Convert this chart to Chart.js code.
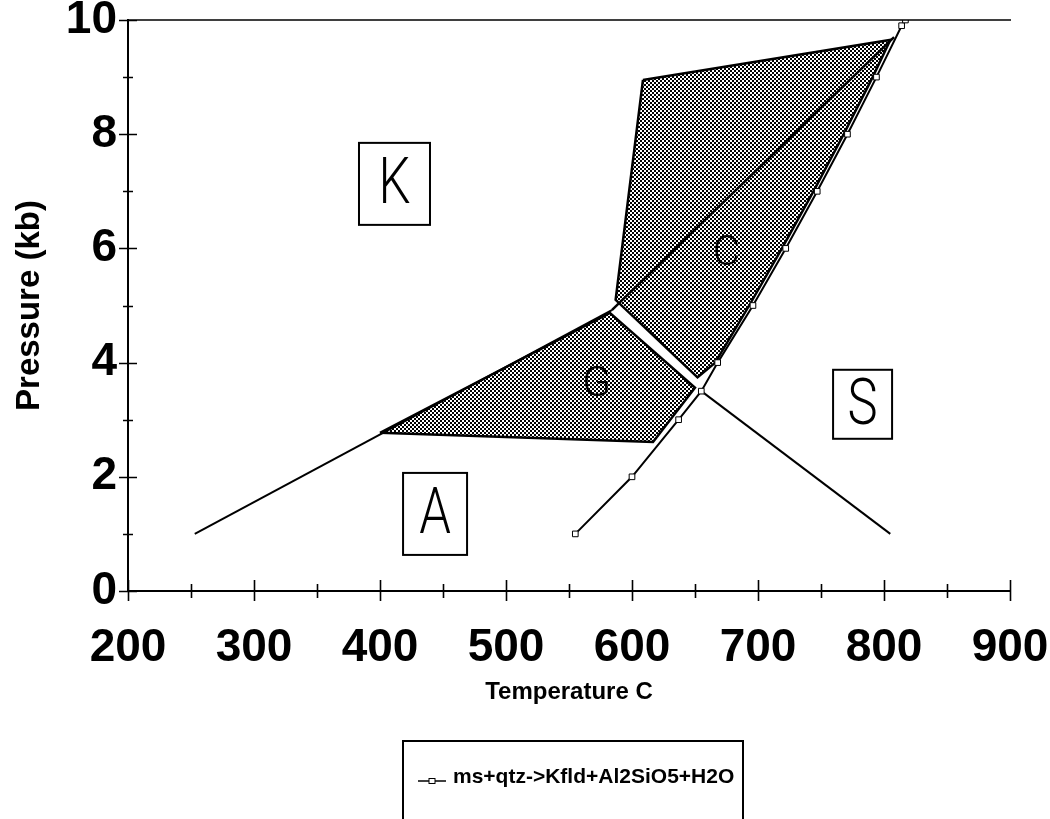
<!DOCTYPE html>
<html>
<head>
<meta charset="utf-8">
<title>Pressure–temperature diagram</title>
<script src="https://cdn.jsdelivr.net/npm/chart.js@4.4.1/dist/chart.umd.min.js"></script>
<style>
  html, body { margin: 0; padding: 0; background: #fff; }
  #wrap { width: 1050px; height: 819px; position: relative; }
</style>
</head>
<body>
<div id="wrap"><canvas id="pt" width="1050" height="819"></canvas></div>
<script>
// Reaction curve ms+qtz -> Kfld+Al2SiO5+H2O (temperature in °C, pressure in kb)
const msqtzT = [555, 600, 637, 655, 668, 696, 722, 747, 771, 794, 814, 817];
const msqtzP = [1, 2, 3, 3.5, 4, 5, 6, 7, 8, 9, 9.9, 10];

// Field boundaries meeting at the invariant points
const leftLineT = [253, 584];
const leftLineP = [1, 4.92];
const upperLineT = [584, 808];
const upperLineP = [4.92, 9.7];
const lowerLineT = [655, 805];
const lowerLineP = [3.5, 1];

// Shaded field G
const fieldGT = [400, 582.5, 650, 616.7, 400];
const fieldGP = [2.77, 4.87, 3.56, 2.61, 2.77];

// Shaded field C
const fieldCT = [608.7, 805, 791, 768, 744, 719, 693, 666, 652, 587, 608.7];
const fieldCP = [8.95, 9.65, 9, 8, 7, 6, 5, 4, 3.74, 5.1, 8.95];

// Axis tick labels
const tempTicks = [200, 300, 400, 500, 600, 700, 800, 900];
const pressTicks = [0, 2, 4, 6, 8, 10];

// Field names and where they sit (°C, kb)
const regionNames = ['K', 'A', 'S', 'C', 'G'];
const regionT = [411.5, 443.7, 783, 675, 572];
const regionP = [7.13, 1.35, 3.27, 5.92, 3.64];

const legendLabel = 'ms+qtz->Kfld+Al2SiO5+H2O';

const pts = (T, P) => T.map((t, i) => ({ x: t, y: P[i] }));

const canvas = document.getElementById('pt');
const ctx0 = canvas.getContext('2d');

// dithered grey fill used for the shaded fields
const tile = document.createElement('canvas');
tile.width = 4; tile.height = 4;
const tg = tile.getContext('2d');
tg.fillStyle = '#fff'; tg.fillRect(0, 0, 4, 4);
tg.fillStyle = '#000'; tg.fillRect(0, 0, 2, 2); tg.fillRect(2, 2, 2, 2);
const dither = ctx0.createPattern(tile, 'repeat');

// tick marks crossing both axes, plus the frame line along the top
const crossTicks = {
  id: 'crossTicks',
  afterDraw(chart) {
    const { ctx, chartArea: { left, right, top, bottom }, scales: { x, y } } = chart;
    ctx.save();
    ctx.strokeStyle = '#000';
    ctx.lineWidth = 1.6;
    ctx.beginPath();
    ctx.moveTo(left, top); ctx.lineTo(right + 1, top);
    for (let v = x.min; v <= x.max; v += 50) {
      const px = Math.round(x.getPixelForValue(v)) + 0.5;
      const major = v % 100 === 0;
      ctx.moveTo(px, bottom - (major ? 11 : 7));
      ctx.lineTo(px, bottom + (major ? 10 : 7));
    }
    for (let v = y.min; v <= y.max; v += 1) {
      const py = Math.round(y.getPixelForValue(v)) + 0.5;
      const major = v % 2 === 0;
      ctx.moveTo(left - (major ? 9 : 5), py);
      ctx.lineTo(left + (major ? 9 : 5), py);
    }
    ctx.stroke();
    ctx.restore();
  }
};

// field names; K, A and S sit in framed boxes
const regionLabels = {
  id: 'regionLabels',
  afterDatasetsDraw(chart, args, opts) {
    const { ctx, scales: { x, y } } = chart;
    ctx.save();
    regionNames.forEach((name, i) => {
      const cx = x.getPixelForValue(regionT[i]);
      const cy = y.getPixelForValue(regionP[i]);
      const box = opts.boxes[name];
      ctx.fillStyle = '#000';
      ctx.textAlign = 'center';
      ctx.textBaseline = 'middle';
      if (box) {
        ctx.fillStyle = '#fff';
        ctx.fillRect(cx - box.w / 2, cy - box.h / 2, box.w, box.h);
        ctx.strokeStyle = '#000';
        ctx.lineWidth = 2;
        ctx.strokeRect(cx - box.w / 2, cy - box.h / 2, box.w, box.h);
        ctx.fillStyle = '#000';
        ctx.save();
        ctx.translate(cx, cy + 3);
        ctx.scale(0.78, 1);
        ctx.font = '300 65px Roboto';
        ctx.fillText(name, 0, 0);
        ctx.restore();
      } else {
        ctx.font = '300 42px Roboto';
        ctx.fillText(name, cx, cy + 2);
      }
    });
    ctx.restore();
  }
};

// framed legend below the plot
const boxLegend = {
  id: 'boxLegend',
  afterDraw(chart, args, opts) {
    const { ctx } = chart;
    const ds = chart.data.datasets.find(d => d.label === legendLabel);
    ctx.save();
    ctx.strokeStyle = '#000';
    ctx.lineWidth = 2;
    ctx.strokeRect(opts.left, opts.top, opts.width, opts.height);
    const ly = opts.top + opts.rowY;
    ctx.strokeStyle = ds.borderColor;
    ctx.lineWidth = 1.5;
    ctx.beginPath();
    ctx.moveTo(opts.left + 15, ly); ctx.lineTo(opts.left + 43, ly);
    ctx.stroke();
    ctx.fillStyle = ds.pointBackgroundColor;
    ctx.lineWidth = 1;
    ctx.fillRect(opts.left + 26, ly - 2.5, 6, 5);
    ctx.strokeRect(opts.left + 26, ly - 2.5, 6, 5);
    ctx.fillStyle = '#000';
    ctx.font = 'bold 21px "Liberation Sans", Arial, sans-serif';
    ctx.textAlign = 'left';
    ctx.textBaseline = 'middle';
    ctx.fillText(ds.label, opts.left + 50, ly - 4);
    ctx.restore();
  }
};

const lineStyle = { showLine: true, fill: false, borderColor: '#000', borderWidth: 2, pointRadius: 0, tension: 0 };
const tickFont = { family: '"Liberation Sans", Arial, sans-serif', size: 46, weight: 'bold', lineHeight: 1 };

new Chart(canvas, {
  type: 'scatter',
  data: {
    datasets: [
      {
        label: legendLabel,
        data: pts(msqtzT, msqtzP),
        showLine: true,
        borderColor: '#000',
        borderWidth: 2,
        pointStyle: 'rect',
        pointRadius: 4,
        pointBackgroundColor: '#fff',
        pointBorderColor: '#000',
        pointBorderWidth: 1,
        tension: 0,
        order: 1
      },
      { label: 'left boundary', data: pts(leftLineT, leftLineP), ...lineStyle, order: 2 },
      { label: 'upper boundary', data: pts(upperLineT, upperLineP), ...lineStyle, borderWidth: 2.5, order: 2 },
      { label: 'lower boundary', data: pts(lowerLineT, lowerLineP), ...lineStyle, order: 2 },
      {
        label: 'field C', data: pts(fieldCT, fieldCP), showLine: true, fill: 'shape',
        backgroundColor: dither, borderColor: '#000', borderWidth: 2.5, pointRadius: 0, tension: 0, order: 3
      },
      {
        label: 'field G', data: pts(fieldGT, fieldGP), showLine: true, fill: 'shape',
        backgroundColor: dither, borderColor: '#000', borderWidth: 2.5, pointRadius: 0, tension: 0, order: 3
      }
    ]
  },
  options: {
    responsive: false,
    animation: false,
    events: [],
    layout: { padding: { left: 0, top: 20, right: 40, bottom: 98 } },
    scales: {
      x: {
        type: 'linear',
        min: 200, max: 900,
        afterBuildTicks: s => { s.ticks = tempTicks.map(v => ({ value: v })); },
        afterFit: s => { s.height = 130; s.paddingLeft = 0; s.paddingRight = 0; },
        grid: { display: true, drawOnChartArea: false, drawTicks: false },
        border: { display: true, color: '#000', width: 2 },
        ticks: { color: '#000', padding: 34, maxRotation: 0, font: tickFont },
        title: {
          display: true,
          text: 'Temperature C',
          color: '#000',
          font: { family: '"Liberation Sans", Arial, sans-serif', size: 24, weight: 'bold', lineHeight: 1.1 },
          padding: { top: 0, bottom: 15 }
        }
      },
      y: {
        type: 'linear',
        min: 0, max: 10,
        afterBuildTicks: s => { s.ticks = pressTicks.map(v => ({ value: v })); },
        afterFit: s => { s.width = 128; s.paddingTop = 0; s.paddingBottom = 0; },
        grid: { display: true, drawOnChartArea: false, drawTicks: false },
        border: { display: true, color: '#000', width: 2 },
        ticks: { color: '#000', padding: 11, font: tickFont },
        title: {
          display: true,
          text: 'Pressure (kb)',
          color: '#000',
          font: { family: '"Liberation Sans", Arial, sans-serif', size: 33, weight: 'bold', lineHeight: 1.1 },
          padding: { top: 12, bottom: 0 }
        }
      }
    },
    plugins: {
      legend: { display: false },
      tooltip: { enabled: false },
      regionLabels: {
        boxes: { K: { w: 71, h: 82 }, A: { w: 64, h: 82 }, S: { w: 59, h: 69 } }
      },
      boxLegend: { left: 403, top: 741, width: 340, height: 110, rowY: 40 }
    }
  },
  plugins: [crossTicks, regionLabels, boxLegend]
});
</script>
</body>
</html>
